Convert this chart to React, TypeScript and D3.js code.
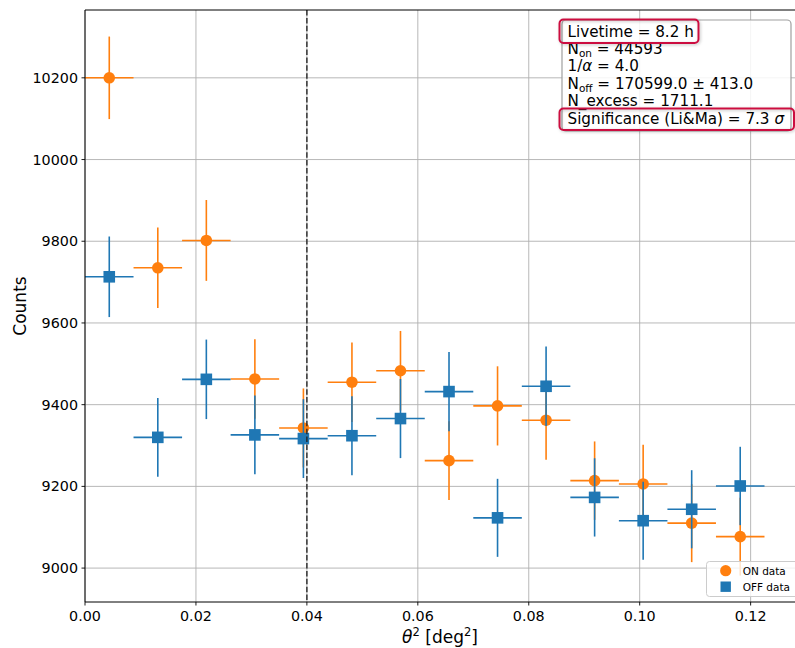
import React from "react";
import * as d3 from "d3";

const binEdges = [0, 0.00875, 0.0175, 0.02625, 0.035, 0.04375, 0.0525, 0.06125, 0.07, 0.07875, 0.0875, 0.09625, 0.105, 0.11375, 0.1225];
const onCounts = [10200, 9735, 9802, 9463, 9343, 9455, 9483, 9263, 9397, 9362, 9214, 9206, 9110, 9077];
const onErrors = [101.0, 98.7, 99.0, 97.3, 96.7, 97.2, 97.4, 96.2, 96.9, 96.8, 96.0, 95.9, 95.4, 95.3];
const offCounts = [9713, 9320, 9462, 9326, 9317, 9324, 9366, 9432, 9123, 9445, 9173, 9116, 9144, 9201];
const offErrors = [98.6, 96.5, 97.3, 96.6, 96.5, 96.6, 96.8, 97.1, 95.5, 97.2, 95.8, 95.5, 95.6, 95.9];
const xTicks = [0, 0.02, 0.04, 0.06, 0.08, 0.1, 0.12];
const yTicks = [9000, 9200, 9400, 9600, 9800, 10000, 10200];
const thetaCut = 0.04;

const W = 795;
const H = 648;
const L = 85, R = 795, T = 10, B = 602;
const FONT = "DejaVu Sans, sans-serif";
const ON_COLOR = "#ff7f0e";
const OFF_COLOR = "#1f77b4";
const RED = "#cc1040";

export default function App() {
  const x = d3.scaleLinear().domain([0, 0.128]).range([L, R]);
  const y = d3.scaleLinear().domain([8917, 10366]).range([B, T]);

  const series = [
    { name: "ON", values: onCounts, errs: onErrors, color: ON_COLOR },
    { name: "OFF", values: offCounts, errs: offErrors, color: OFF_COLOR },
  ];

  const fmtX = d3.format(".2f");

  return (
    <svg width={W} height={H} style={{ position: "fixed", left: 0, top: 0, background: "#fff" }} fontFamily={FONT}>
      <defs>
        <clipPath id="plotclip">
          <rect x={L} y={T} width={R - L + 5} height={B - T} />
        </clipPath>
        <filter id="shadow" x="-10%" y="-30%" width="120%" height="160%">
          <feDropShadow dx="1" dy="1" stdDeviation="1.5" floodColor="#000" floodOpacity="0.25" />
        </filter>
      </defs>
      <rect x={0} y={0} width={W} height={H} fill="#fff" />
      {/* grid */}
      <g stroke="#b0b0b0" strokeWidth={0.9}>
        {xTicks.map((t) => (
          <line key={"gx" + t} x1={x(t)} x2={x(t)} y1={T} y2={B} />
        ))}
        {yTicks.map((t) => (
          <line key={"gy" + t} x1={L} x2={R} y1={y(t)} y2={y(t)} />
        ))}
      </g>
      {/* data */}
      <g clipPath="url(#plotclip)">
        {series.map((s) => (
          <g key={s.name}>
            {s.values.map((v, i) => {
              const x0 = x(binEdges[i]);
              const x1 = x(binEdges[i + 1]);
              const xc = x((binEdges[i] + binEdges[i + 1]) / 2);
              return (
                <g key={i} stroke={s.color} strokeWidth={1.6}>
                  <line x1={x0} x2={x1} y1={y(v)} y2={y(v)} />
                  <line x1={xc} x2={xc} y1={y(v - s.errs[i])} y2={y(v + s.errs[i])} />
                  {s.name === "ON" ? (
                    <circle cx={xc} cy={y(v)} r={5.8} fill={s.color} stroke="none" />
                  ) : (
                    <rect x={xc - 5.8} y={y(v) - 5.8} width={11.6} height={11.6} fill={s.color} stroke="none" />
                  )}
                </g>
              );
            })}
          </g>
        ))}
        <line x1={x(thetaCut)} x2={x(thetaCut)} y1={T} y2={B} stroke="#222" strokeOpacity={0.9} strokeWidth={1.5} strokeDasharray="5.5,2.4" />
      </g>
      {/* spines */}
      <g stroke="#000" strokeWidth={1}>
        <line x1={L} x2={L} y1={T} y2={B} />
        <line x1={L} x2={W} y1={B} y2={B} />
        <line x1={L} x2={W} y1={T} y2={T} />
      </g>
      {/* ticks */}
      <g fontSize={14.3} fill="#000">
        {xTicks.map((t) => (
          <g key={"tx" + t}>
            <line x1={x(t)} x2={x(t)} y1={B} y2={B + 3.5} stroke="#000" strokeWidth={0.9} />
            <text x={x(t)} y={B + 19} textAnchor="middle">{fmtX(t)}</text>
          </g>
        ))}
        {yTicks.map((t) => (
          <g key={"ty" + t}>
            <line x1={L - 3.5} x2={L} y1={y(t)} y2={y(t)} stroke="#000" strokeWidth={0.9} />
            <text x={L - 7} y={y(t)} textAnchor="end" dominantBaseline="central">{t}</text>
          </g>
        ))}
      </g>
      {/* axis labels */}
      <text x={0} y={0} transform={`translate(26, ${(T + B) / 2}) rotate(-90)`} textAnchor="middle" fontSize={17}>Counts</text>
      <text x={(L + 795) / 2} y={643} textAnchor="middle" fontSize={17}>
        <tspan fontStyle="italic">θ</tspan>
        <tspan fontSize={11.5} dy={-7}>2</tspan>
        <tspan dy={7}> [deg</tspan>
        <tspan fontSize={11.5} dy={-7}>2</tspan>
        <tspan dy={7}>]</tspan>
      </text>
      {/* stats box */}
      <rect x={562} y={20} width={229} height={111} rx={4} fill="#fff" fillOpacity={0.85} stroke="#a0a0a0" strokeWidth={1.2} />
      <g fontSize={15.2} fill="#000">
        <text x={567.5} y={36.5}>Livetime = 8.2 h</text>
        <text x={567.5} y={53.5}>
          N<tspan fontSize={10.5} dy={3}>on</tspan><tspan dy={-3}> = 44593</tspan>
        </text>
        <text x={567.5} y={71}>
          1/<tspan fontStyle="italic">α</tspan> = 4.0
        </text>
        <text x={567.5} y={88.5}>
          N<tspan fontSize={10.5} dy={3}>off</tspan><tspan dy={-3}> = 170599.0 ± 413.0</tspan>
        </text>
        <text x={567.5} y={106}>N_excess = 1711.1</text>
        <text x={567.5} y={124}>
          Significance (Li&amp;Ma) = 7.3 <tspan fontStyle="italic">σ</tspan>
        </text>
      </g>
      <rect x={559.5} y={19.5} width={139} height={23.5} rx={4} fill="none" stroke={RED} strokeWidth={2} filter="url(#shadow)" />
      <rect x={559.5} y={108.5} width={234.5} height={21.5} rx={4} fill="none" stroke={RED} strokeWidth={2} filter="url(#shadow)" />
      {/* legend */}
      <rect x={706.5} y={561.5} width={95} height={35} rx={3} fill="#fff" fillOpacity={0.8} stroke="#cccccc" strokeWidth={1} />
      <circle cx={725.7} cy={570.7} r={5.6} fill={ON_COLOR} />
      <rect x={720.5} y={581.5} width={10.4} height={10.4} fill={OFF_COLOR} />
      <g fontSize={10.5} fill="#000">
        <text x={742.7} y={574.5}>ON data</text>
        <text x={742.7} y={590.5}>OFF data</text>
      </g>
    </svg>
  );
}
